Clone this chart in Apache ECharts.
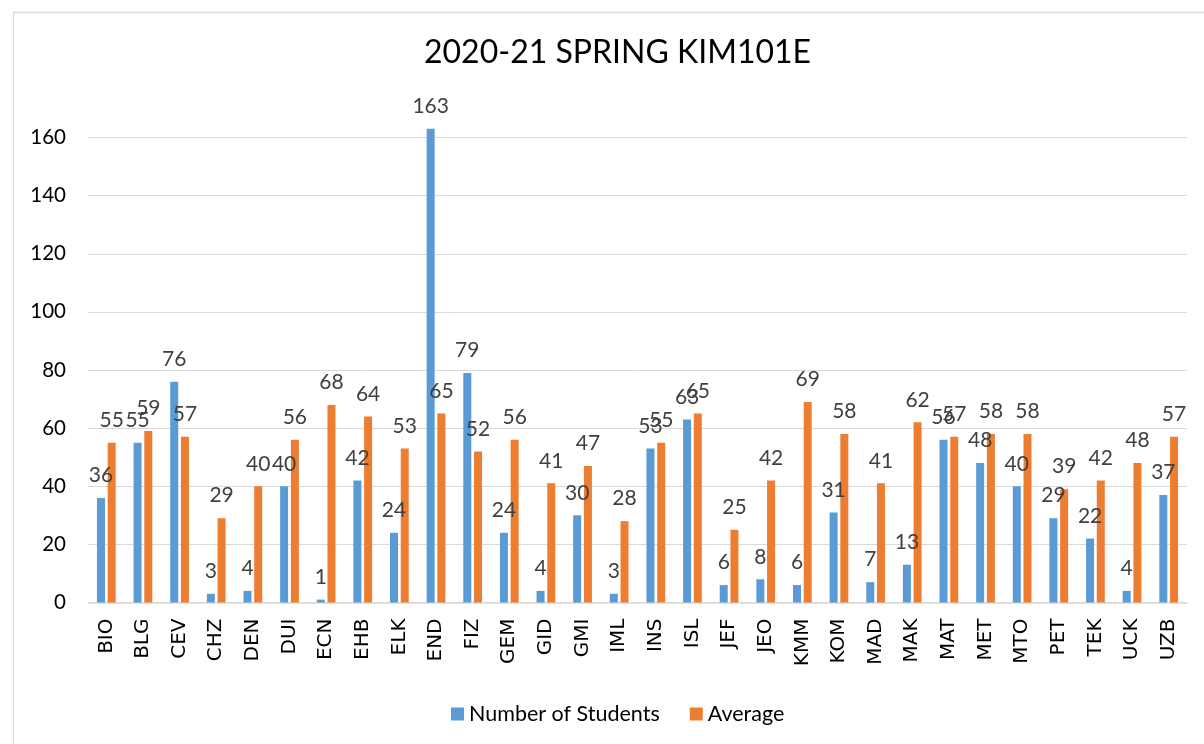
<!DOCTYPE html>
<html>
<head>
<meta charset="utf-8">
<script src="https://cdn.jsdelivr.net/npm/echarts@6/dist/echarts.min.js"></script>
<style>html,body{margin:0;padding:0;background:#fff}#c{width:1204px;height:744px}</style>
</head>
<body>
<div id="c"></div>
<script>
const categories = ['BIO','BLG','CEV','CHZ','DEN','DUI','ECN','EHB','ELK','END','FIZ','GEM','GID','GMI','IML','INS','ISL','JEF','JEO','KMM','KOM','MAD','MAK','MAT','MET','MTO','PET','TEK','UCK','UZB'];
const students = [36,55,76,3,4,40,1,42,24,163,79,24,4,30,3,53,63,6,8,6,31,7,13,56,48,40,29,22,4,37];
const average = [55,59,57,29,40,56,68,64,53,65,52,56,41,47,28,55,65,25,42,69,58,41,62,57,58,58,39,42,48,57];
const yTicks = [0,20,40,60,80,100,120,140,160];

const chart = echarts.init(document.getElementById('c'), null, {renderer:'canvas'});
const labelStyle = {show:true, position:'top', distance:12, fontFamily:'Lato', fontSize:21, color:'#404040'};
chart.setOption({
  animation:false,
  backgroundColor:'#fff',
  graphic:[{type:'rect', left:11, top:10, shape:{width:1300, height:800}, style:{fill:'none', stroke:'#d9d9d9', lineWidth:1.3}, silent:true}],
  title:{text:'2020-21 SPRING KIM101E', left:419, top:32, textStyle:{fontFamily:'Lato', fontSize:32, fontWeight:'normal', color:'#000'}},
  legend:{left:446, top:698, itemWidth:13, itemHeight:13, icon:'rect', itemGap:30,
    textStyle:{fontFamily:'Lato', fontSize:21.5, color:'#000'},
    data:['Number of Students','Average']},
  grid:{left:88, right:17, top:137.5, bottom:141.5},
  xAxis:{type:'category', data:categories,
    axisLine:{lineStyle:{color:'#d9d9d9', width:1.5}}, axisTick:{show:false},
    axisLabel:{rotate:90, margin:16, fontFamily:'DejaVu Sans', fontSize:20, color:'#000', interval:0}},
  yAxis:{type:'value', min:yTicks[0], max:yTicks[yTicks.length-1], interval:20,
    axisLine:{show:false}, axisTick:{show:false},
    splitLine:{lineStyle:{color:'#d9d9d9', width:1}},
    axisLabel:{margin:22, fontFamily:'Lato', fontSize:20.5, color:'#000'}},
  series:[
    {name:'Number of Students', type:'bar', data:students, barWidth:8, barGap:'34%', clip:false,
     itemStyle:{color:'#5B9BD5'}, label:labelStyle},
    {name:'Average', type:'bar', data:average, barWidth:8, clip:false,
     itemStyle:{color:'#ED7D31'}, label:labelStyle}
  ]
});
</script>
</body>
</html>
